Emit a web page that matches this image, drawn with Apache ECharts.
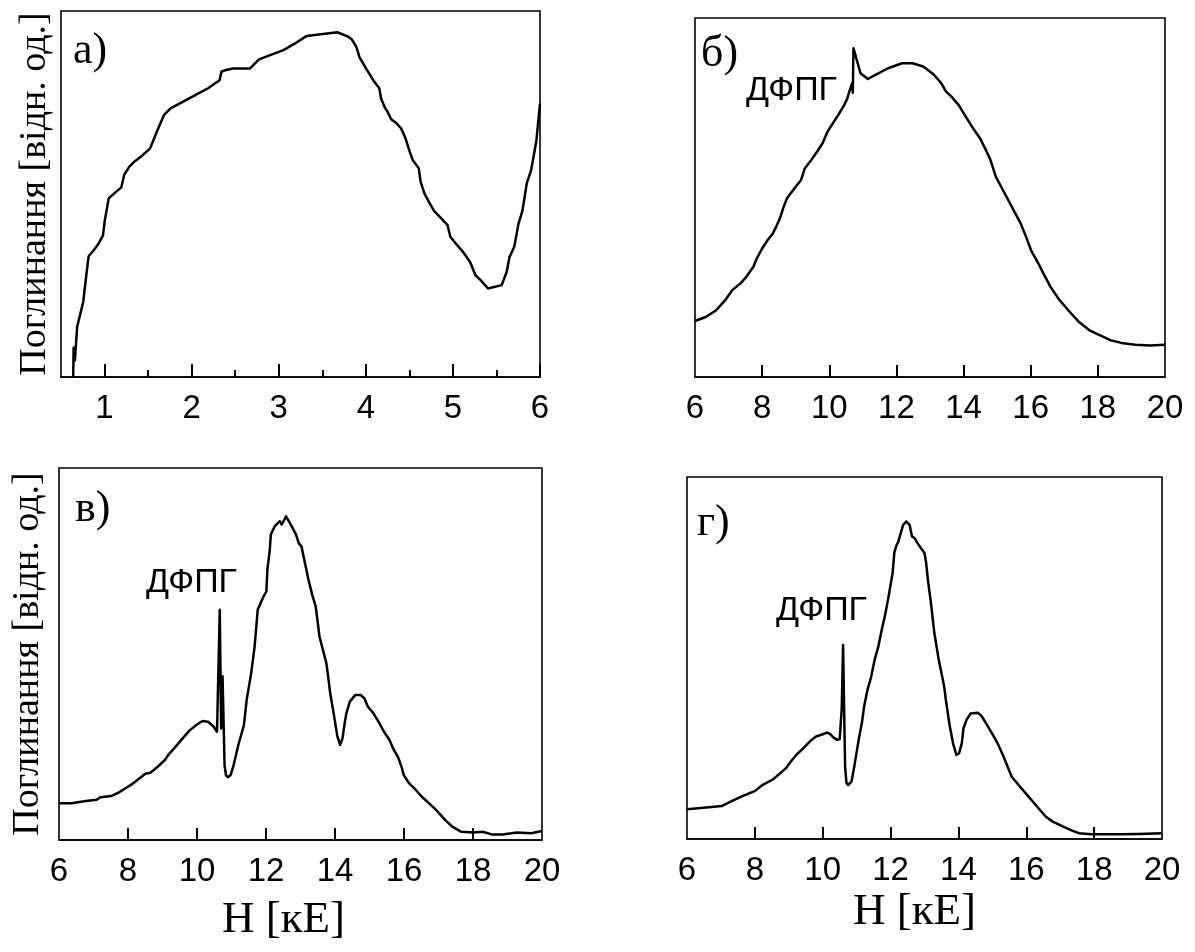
<!DOCTYPE html>
<html>
<head>
<meta charset="utf-8">
<title>Поглинання</title>
<script src="https://cdn.jsdelivr.net/npm/echarts@6/dist/echarts.min.js"></script>
<style>
  html, body { margin: 0; padding: 0; background: #fff; }
  #chart { width: 1195px; height: 952px; }
</style>
</head>
<body>
<div id="chart"></div>
<script>
// Panel а): low-field absorption, H from 0.5 to 6 kE
const hA = [0.64,0.645,0.66,0.685,0.755,0.788,0.817,0.871,0.933,0.982,1.003,1.048,1.118,1.192,1.225,1.283,1.345,1.427,1.522,1.600,1.683,1.757,1.860,2.025,2.189,2.321,2.342,2.395,2.478,2.671,2.774,2.931,3.055,3.178,3.322,3.508,3.673,3.796,3.837,3.891,3.928,4.002,4.085,4.155,4.175,4.217,4.249,4.291,4.353,4.406,4.456,4.505,4.538,4.608,4.629,4.674,4.723,4.785,4.847,4.938,4.971,5.032,5.115,5.197,5.259,5.321,5.403,5.560,5.617,5.650,5.704,5.733,5.753,5.795,5.824,5.848,5.898,5.926,5.959,6.0];
const absA = [0,8.0,4.6,13.7,20.5,27.3,33.0,34.5,36.5,38.7,42.8,48.8,50.3,51.8,55.2,57.4,58.9,60.4,62.4,67.0,71.6,73.4,74.7,76.8,78.9,81.1,83.4,83.9,84.3,84.3,86.8,88.2,89.3,91.0,93.2,93.7,94.2,93.0,92.3,90.2,87.3,84.3,81.1,78.9,76.1,73.7,72.5,70.4,69.3,67.9,65.2,61.5,59.3,57.0,53.3,50.1,47.9,45.3,43.8,41.5,38.3,36.5,34.2,31.4,27.8,26.4,24.2,25.1,28.7,32.8,35.6,39.2,41.9,45.1,49.2,52.9,56.5,60.2,64.7,74.7];

// Panel б)
const hB = [6.0,6.32,6.63,6.90,7.11,7.37,7.53,7.74,7.84,8.00,8.16,8.32,8.42,8.53,8.64,8.74,9.00,9.16,9.27,9.43,9.64,9.80,9.95,10.11,10.27,10.43,10.53,10.60,10.68,10.70,10.72,10.93,11.15,11.32,11.75,12.17,12.48,12.80,13.12,13.33,13.48,13.64,13.85,14.06,14.28,14.49,14.64,14.80,14.96,15.12,15.33,15.54,15.70,15.86,16.01,16.23,16.38,16.59,16.86,17.12,17.44,17.75,18.07,18.39,18.70,19.12,19.55,20.0];
const absB = [15.6,16.7,18.6,21.4,24.2,26.2,27.9,30.7,33.0,35.8,38.1,40.0,41.9,44.2,47.4,49.8,53.0,54.9,58.1,60.0,62.8,65.1,68.4,70.7,73.0,75.5,77.4,79.6,81.8,79.2,91.6,84.6,83.0,83.9,86.0,87.4,87.4,86.5,84.2,81.9,79.5,78.1,75.8,72.6,69.3,66.5,63.7,60.5,55.8,53.0,49.3,45.6,42.8,39.1,35.3,31.6,28.8,25.1,21.4,18.6,15.3,13.0,11.6,10.2,9.5,9.0,8.8,9.0];

// Panel в)
const hC = [6.00,6.36,6.78,7.09,7.20,7.51,7.72,7.93,8.13,8.34,8.50,8.65,8.86,9.07,9.17,9.38,9.59,9.80,10.01,10.16,10.32,10.48,10.58,10.63,10.66,10.70,10.74,10.80,10.84,10.90,10.97,11.05,11.20,11.36,11.44,11.57,11.67,11.76,11.93,12.01,12.04,12.11,12.14,12.25,12.40,12.45,12.51,12.58,12.66,12.77,12.87,12.95,13.03,13.11,13.23,13.34,13.44,13.49,13.55,13.65,13.75,13.79,13.86,13.96,14.07,14.15,14.22,14.28,14.33,14.43,14.59,14.74,14.85,14.95,15.11,15.26,15.42,15.58,15.68,15.84,15.94,15.99,16.15,16.30,16.51,16.72,16.93,17.19,17.40,17.66,18.02,18.28,18.54,18.86,19.27,19.69,20.0];
const absC = [9.9,9.9,10.5,10.8,11.5,11.8,12.7,13.9,15.1,16.6,17.8,18.1,19.7,21.5,22.9,25.1,27.4,29.6,31.1,32.0,31.8,30.5,29.1,28.7,61.9,30.0,44.0,20.0,17.4,16.9,17.4,19.7,25.6,30.9,37.7,44.8,52.0,61.9,65.5,66.8,72.6,78.0,82.1,84.3,85.7,84.8,85.7,87.0,85.7,83.9,82.1,79.8,78.9,75.3,70.0,65.9,62.8,59.2,54.7,51.1,47.5,44.8,39.5,34.1,27.8,25.6,27.4,31.4,34.1,37.2,39.0,39.0,38.1,35.9,34.1,31.8,29.1,26.9,24.7,22.0,19.3,17.5,15.2,13.9,11.7,9.9,8.1,5.4,3.6,2.2,2.0,2.2,1.5,1.5,2.0,1.8,2.4];

// Panel г)
const hD = [6.00,6.49,7.02,7.33,7.65,8.01,8.22,8.54,8.75,8.91,9.06,9.22,9.43,9.64,9.80,9.96,10.13,10.22,10.32,10.43,10.50,10.56,10.60,10.66,10.70,10.75,10.85,10.93,11.06,11.16,11.22,11.32,11.43,11.53,11.64,11.74,11.85,11.95,12.06,12.11,12.16,12.23,12.30,12.37,12.47,12.56,12.63,12.71,12.79,12.89,13.00,13.05,13.10,13.19,13.29,13.42,13.58,13.63,13.73,13.84,13.94,14.02,14.10,14.15,14.24,14.36,14.57,14.68,14.84,14.99,15.15,15.31,15.41,15.57,15.73,15.94,16.15,16.36,16.57,16.78,17.09,17.35,17.56,17.93,18.25,18.77,19.30,20.0];
const absD = [8.2,8.6,9.1,10.5,11.9,13.3,14.9,16.5,18.2,19.5,21.4,23.2,25.1,27.1,28.3,28.8,29.4,29.0,28.0,27.4,27.6,36.0,53.6,20.0,15.5,14.9,15.9,20.0,27.4,32.4,36.6,41.2,44.9,49.5,53.2,57.8,62.4,67.5,73.5,79.0,80.8,82.2,84.5,86.8,87.7,86.8,83.6,83.1,81.8,80.4,79.0,76.2,71.6,65.2,56.9,49.5,42.1,38.4,32.0,26.5,23.2,23.7,26.5,30.6,32.9,34.7,34.9,34.0,31.5,29.2,26.5,23.2,20.9,17.2,15.4,13.1,10.8,8.5,6.2,4.8,3.4,2.3,1.6,1.3,1.3,1.3,1.4,1.6];

// Tick values
const ticksA = [1, 2, 3, 4, 5, 6];
const minorTicksA = [1.5, 2.5, 3.5, 4.5, 5.5];
const ticksField = [8, 10, 12, 14, 16, 18];
const yTitle = 'Поглинання [відн. од.]';
const xTitle = 'H [кЕ]';
const dpphLabel = 'ДФПГ';
const panelLetters = ['а)', 'б)', 'в)', 'г)'];

const SANS = '"Liberation Sans", Arial, sans-serif';
const SERIF = '"Liberation Serif", "Times New Roman", serif';
const INK = '#000';

const zip = (xs, ys) => xs.map((x, i) => [x, ys[i]]);

const grids = [
  { left: 61,  top: 11,  width: 479, height: 366 },
  { left: 695, top: 18,  width: 470, height: 359 },
  { left: 59,  top: 468, width: 483, height: 372 },
  { left: 687, top: 477, width: 475, height: 362 }
].map(g => Object.assign({ show: true, borderColor: INK, borderWidth: 1.6, backgroundColor: 'transparent' }, g));

// Axis holding only the numbers under a panel
function labelAxis(gridIndex, min, max, extra) {
  return Object.assign({
    type: 'value', gridIndex, position: 'bottom', min, max,
    axisLine: { show: true, onZero: false, lineStyle: { color: INK, width: 1.6 } },
    axisTick: { show: false },
    axisLabel: { show: true, color: INK, fontFamily: SANS, fontSize: 33, margin: 15 },
    splitLine: { show: false }
  }, extra || {});
}

// Axis holding only the inward tick marks of a panel
function tickAxis(gridIndex, min, max, values, length) {
  return {
    type: 'value', gridIndex, position: 'bottom', min, max,
    axisLine: { show: false, onZero: false },
    axisTick: { show: true, inside: true, length, customValues: values, lineStyle: { color: INK, width: 2 } },
    axisLabel: { show: false },
    splitLine: { show: false }
  };
}

const xName = (nameGap, padRight) => ({
  name: xTitle, nameLocation: 'middle', nameGap,
  nameTextStyle: { fontFamily: SERIF, fontSize: 45, color: INK, padding: [0, padRight, 0, 0] }
});

const xAxes = [
  labelAxis(0, 0.5, 6, { axisLabel: { show: true, color: INK, fontFamily: SANS, fontSize: 33, margin: 15, customValues: ticksA } }),
  tickAxis(0, 0.5, 6, ticksA, 13),
  tickAxis(0, 0.5, 6, minorTicksA, 7),
  labelAxis(1, 6, 20, { interval: 2 }),
  tickAxis(1, 6, 20, ticksField, 12),
  labelAxis(2, 6, 20, Object.assign({ interval: 2 }, xName(58, 34))),
  tickAxis(2, 6, 20, ticksField, 12),
  labelAxis(3, 6, 20, Object.assign({ interval: 2 }, xName(51, 20))),
  tickAxis(3, 6, 20, ticksField, 12)
];

function absAxis(gridIndex, title, gap) {
  const ax = {
    type: 'value', gridIndex, min: 0, max: 100,
    axisLine: { show: false }, axisTick: { show: false },
    axisLabel: { show: false }, splitLine: { show: false }
  };
  if (title) {
    Object.assign(ax, {
      name: title, nameLocation: 'middle', nameRotate: 90, nameGap: gap,
      nameTextStyle: { fontFamily: SERIF, fontSize: 38, color: INK }
    });
  }
  return ax;
}

const yAxes = [absAxis(0, yTitle, 7), absAxis(1), absAxis(2, yTitle, 12), absAxis(3)];

const lineSeries = (xi, yi, data) => ({
  type: 'line', xAxisIndex: xi, yAxisIndex: yi, data,
  showSymbol: false, symbol: 'none', smooth: false, animation: false,
  lineStyle: { color: INK, width: 2.5, join: 'round' }
});

const series = [
  lineSeries(0, 0, zip(hA, absA)),
  lineSeries(3, 1, zip(hB, absB)),
  lineSeries(5, 2, zip(hC, absC)),
  lineSeries(7, 3, zip(hD, absD))
];

const letter = (text, left, top) => ({
  type: 'text', left, top,
  style: { text, fill: INK, font: '44px ' + SERIF }
});
const dpph = (left, top) => ({
  type: 'text', left, top,
  style: { text: dpphLabel, fill: INK, font: '34px ' + SANS }
});

const chart = echarts.init(document.getElementById('chart'), null, { renderer: 'canvas' });
chart.setOption({
  backgroundColor: '#fff',
  animation: false,
  grid: grids,
  xAxis: xAxes,
  yAxis: yAxes,
  series,
  graphic: [
    letter(panelLetters[0], 73, 29),
    letter(panelLetters[1], 701, 32),
    letter(panelLetters[2], 75, 487),
    letter(panelLetters[3], 697, 501),
    dpph(746, 74),
    dpph(146, 566),
    dpph(776, 594)
  ]
});
</script>
</body>
</html>
